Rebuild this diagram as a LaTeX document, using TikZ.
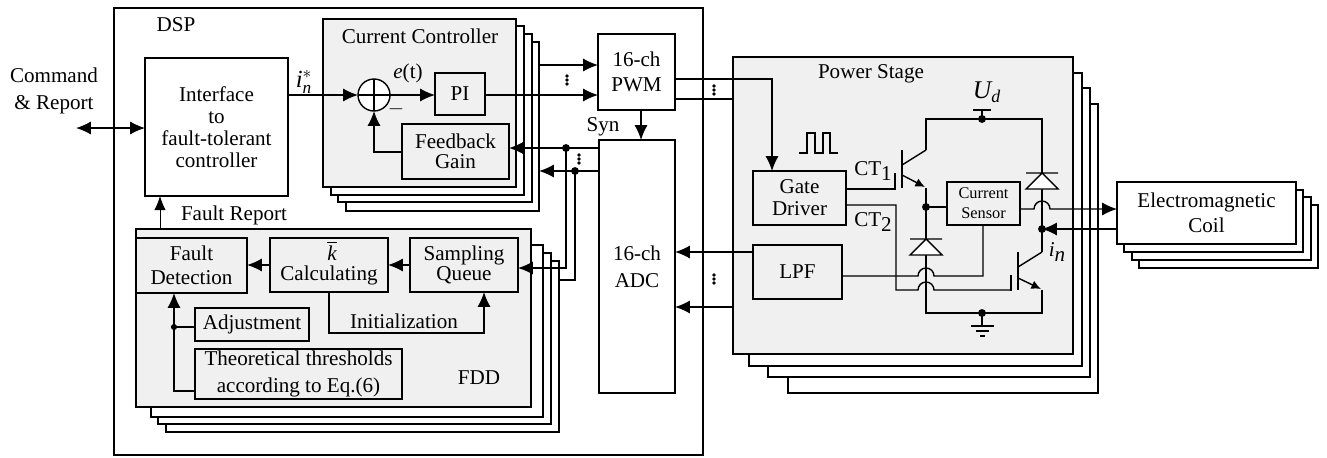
\documentclass[tikz,border=0pt]{standalone}
\usepackage{fontspec}
\setmainfont{Liberation Serif}
\usepackage{amsmath}
\usepackage{xcolor}
\usepackage{tikz}
\usetikzlibrary{arrows.meta}
\usetikzlibrary{calc}
\definecolor{panel}{HTML}{F0F0F0}

\begin{document}
\begin{tikzpicture}[x=0.02cm,y=-0.02cm,line width=0.8pt,font=\fontsize{12}{12.5}\selectfont,
		arr/.style={-{Latex[length=8.5pt,width=7.5pt]}},
		tip/.style={-{Latex[length=5.5pt,width=5pt]}},
		both/.style={{Latex[length=8.5pt,width=7.5pt]}-{Latex[length=8.5pt,width=7.5pt]}},
		sz/.style 2 args={minimum width=#1*0.02cm,minimum height=#2*0.02cm}]
	\tikzstyle{wbox}=[draw,fill=white,inner sep=0pt,outer sep=0pt,align=center]
	\tikzstyle{gbox}=[wbox,fill=panel]
	\tikzstyle{lab}=[inner sep=0pt,align=center]
	\tikzstyle{tight}=[font=\fontsize{12}{11.2}\selectfont]
	\tikzstyle{jdot}=[fill,circle,inner sep=0pt,minimum size=4.5pt]
	\useasboundingbox (0,0) rectangle (1327,457);

	% DSP side
	\node[wbox,sz={589}{447}] (DSP) at (408.5,231.5) {};
	\node[lab] (dspL) at (176,25) {DSP};
	\node[wbox,sz={143}{138}] (IF) at (216.5,127) {Interface\\to\\fault-tolerant\\controller};

	\node[wbox,sz={193}{169}] (CC3) at (442.5,126.5) {};
	\node[wbox,sz={194}{168}] (CC2) at (435,118) {};
	\node[wbox,sz={193}{169}] (CC1) at (427.5,110.5) {};
	\node[gbox,sz={193}{168}] (CC) at (419.5,103) {};
	\node[lab] (ccL) at (420,36) {Current Controller};
	\node[gbox,sz={50}{42}] (PI) at (460,94) {PI};
	\node[gbox,tight,sz={107}{55}] (FB) at (455.5,151.5) {Feedback\\Gain};
	\node[circle,draw,fill=white,inner sep=0pt,outer sep=0pt,minimum size=0.64cm] (SUM) at (374,95) {};
	\draw (SUM.north) -- (SUM.south);
	\draw (SUM.west) -- (SUM.east);
	\node[lab,font=\fontsize{14}{14}\selectfont] (iL) at (304,82) {$\mathit{i}_{\mathit{n}}^{*}$};
	\node[lab] (eL) at (408,73) {$\mathit{e}$(t)};
	\node[lab] (mL) at (396,109) {$-$};

	\node[wbox,tight,sz={77}{76}] (PWM) at (636.5,72) {16-ch\\[3pt]PWM};
	\node[wbox,tight,sz={76}{253}] (ADC) at (637,266.5) {16-ch\\[4pt]ADC};
	\node[lab] (synL) at (603,127) {Syn};

	\node[wbox,sz={393}{171}] (FDD3) at (362.5,346.5) {};
	\node[wbox,sz={393}{171}] (FDD2) at (354.5,338.5) {};
	\node[wbox,sz={392}{172}] (FDD1) at (347,331) {};
	\node[gbox,sz={395}{178}] (FDD) at (333.5,318) {};
	\node[lab] (fddL) at (479,378) {FDD};
	\node[lab] (frL) at (234,215) {Fault Report};
	\node[gbox,tight,sz={111}{55}] (FD) at (191.5,265.5) {Fault\\[2.5pt]Detection};
	\node[gbox,sz={118}{54}] (KC) at (329,265) {};
	\node[lab] (kL) at (332,251) {$\overline{\mathit{k}}$};
	\node[lab] (kcL) at (329,275) {Calculating};
	\node[gbox,tight,sz={108}{54}] (SQ) at (464,265) {Sampling\\Queue};
	\node[gbox,sz={114}{33}] (ADJ) at (252,324.5) {Adjustment};
	\node[gbox,sz={207}{50}] (TT) at (298.5,374) {Theoretical thresholds\\[2.5pt]according to Eq.(6)};
	\node[lab] (iniL) at (404,321) {Initialization};

	\node[lab] (cmdL) at (54,91) {Command\\[2.5pt]\& Report};
	\coordinate (cmd) at (76,128);
	\draw[both] (cmd) -- (IF.west |- cmd);
	\draw[arr] (IF.east |- SUM.west) -- (SUM.west);
	\draw[arr] (SUM.east) -- (PI.west |- SUM.east);
	\draw[arr] (PI.east |- SUM.east) -- (PWM.west |- SUM.east);
	\draw[arr] (CC3.east |- 0,65) -- (PWM.west |- 0,65);
	\draw[arr] (FB.west |- 0,152) -| (SUM.south);
	\draw[arr] (ADC.west |- 0,148) -- (FB.east |- 0,148);
	\draw[arr] (ADC.west |- 0,171) -- (CC3.east |- 0,171);
	\draw[arr] (641,110) -- (641,140);
	\coordinate (j1) at (566,148);
	\coordinate (j2) at (575,171);
	\draw[arr] (j1) |- (SQ.east |- 0,268);
	\draw (j2) |- (FDD3.east |- 0,280);
	\node[jdot] (d1) at (j1) {};
	\node[jdot] (d2) at (j2) {};

	\draw[arr] (SQ.west |- 0,265) -- (KC.east |- 0,265);
	\draw[arr] (KC.west |- 0,265) -- (FD.east |- 0,265);
	\coordinate (ini) at (484,333);
	\draw[arr] (KC.south) |- (ini) -- (ini |- SQ.south);
	\coordinate (ft) at (174,391);
	\draw[arr] (TT.west |- ft) -- (ft) -- (ft |- FD.south);
	\draw (ADJ.west |- 0,327) -- (174,327);
	\node[jdot,minimum size=3.5pt] (d3) at (174,327) {};
	\draw[-{Latex[length=8pt,width=6.5pt]},line width=0.5pt] (160,229) -- (160,196);

	% power stage
	\node[wbox,sz={310}{289}] (PS3) at (943,248.5) {};
	\node[wbox,sz={322}{289}] (PS2) at (929,232.5) {};
	\node[wbox,sz={333}{293}] (PS1) at (915.5,219.5) {};
	\node[gbox,sz={340}{297}] (PS) at (903,205.5) {};
	\node[lab] (psL) at (871,74) {Power Stage};
	\node[gbox,sz={93}{54}] (GD) at (799.5,198) {Gate\\Driver};
	\node[gbox,sz={89}{54}] (LPF) at (797.5,272) {LPF};
	\node[gbox,font=\fontsize{9.3}{11.3}\selectfont,sz={73}{43}] (CS) at (983.5,203.5) {Current\\Sensor};
	\node[lab] (ct1L) at (873,171) {CT\raisebox{-0.5ex}{1}};
	\node[lab] (ct2L) at (873,222) {CT\raisebox{-0.5ex}{2}};
	\node[lab,font=\fontsize{14.5}{15}\selectfont] (udL) at (987,92) {$\mathit{U}_{\mathit{d}}$};
	\node[lab] (inL) at (1057,252) {\textit{i}\raisebox{-0.5ex}{\textit{n}}};

	\node[wbox,sz={179}{63}] (EC3) at (1228.5,236.5) {};
	\node[wbox,sz={179}{63}] (EC2) at (1221.5,228.5) {};
	\node[wbox,sz={179}{62}] (EC1) at (1213.5,221) {};
	\node[wbox,tight,sz={179}{62}] (EC) at (1206.5,213) {Electromagnetic\\[3pt]Coil};

	\draw[arr] (PWM.east |- 0,79) -| (GD.north -| 772,0);
	\draw (PWM.east |- 0,99) -- (PS.west |- 0,99);
	\draw[arr] (LPF.west |- 0,252) -- (ADC.east |- 0,252);
	\draw[arr] (PS.west |- 0,307) -- (ADC.east |- 0,307);

	% pulse over the driver
	\draw[line width=0.6pt] (799,153) -- (807,153) -- (807,133) -- (815,133) -- (815,153) -- (823,153)
		-- (823,133) -- (830,133) -- (830,153) -- (838,153);

	% switches and diodes
	\coordinate (top) at (982,119);
	\coordinate (bot) at (982,313);
	\coordinate (mid) at (926,207);
	\coordinate (out) at (1042,229);
	\coordinate (g1) at (895,173);
	\coordinate (g2) at (1011,290);
	\draw (926,150) -- (926,119) -- (1042,119) -- (1042,252);
	\draw (926,188) -- (926,313) -- (1042,313) -- (1042,290);
	\draw (top) -- (982,110);
	\draw (973,110) -- (991,110);
	\draw (bot) -- (982,326);
	\draw (971,326) -- (994,326);
	\draw (976,331) -- (989,331);
	\draw (980,336) -- (985,336);
	\draw (902,150) -- (902,188);
	\draw (902,165) -- (926,150);
	\draw[tip] (902,175) -- (925,187);
	\draw (1018,252) -- (1018,290);
	\draw (1018,267) -- (1042,252);
	\draw[tip] (1018,278) -- (1041,289);
	\draw (1011,275) -- (1011,291);
	\draw (GD.east |- 0,189) -| (g1);
	\draw (GD.east |- 0,205) -- (896,205) -- (896,290) -- (918,290) arc (180:360:8) -- (g2);
	\draw (LPF.east |- 0,276) -- (918,276) arc (180:360:8) -- (983,276) -- (983,225);
	\draw (mid) -- (CS.west |- mid);
	\foreach \x/\y in {926/239,1042/173}
		\draw[fill=white,line join=miter] (\x,\y+16) -- (\x-16,\y+16) -- (\x,\y) -- (\x+16,\y+16) -- cycle
			(\x-16,\y) -- (\x+16,\y);
	\draw[arr] (CS.east |- 0,209) -- (1034,209) arc (180:360:8) -- (EC.west |- 0,209);
	\draw[arr] (EC.west |- out) -- (out);
	\node[jdot] (d4) at (top) {};
	\node[jdot] (d5) at (bot) {};
	\node[jdot] (d6) at (mid) {};
	\node[jdot] (d7) at (out) {};

	% ellipsis marks
	\foreach \x/\y in {567/80,579/159,714/90,714/279}
		\foreach \k in {-4,0,4}
			\fill (\x,\y+\k) circle (1.9);
\end{tikzpicture}
\end{document}
